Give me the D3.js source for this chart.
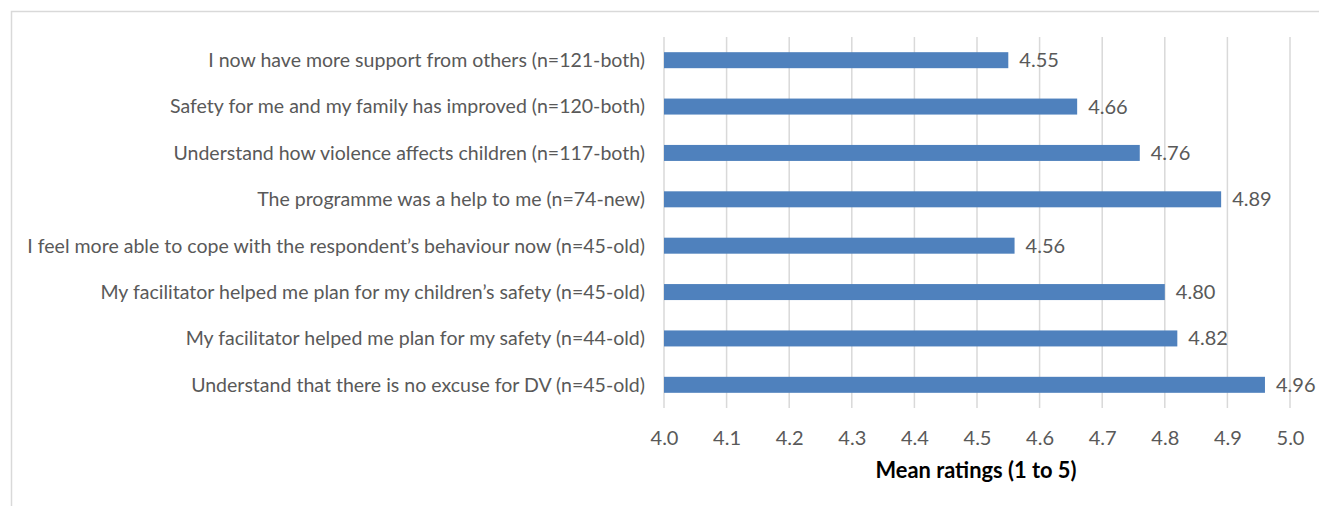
<!DOCTYPE html>
<html>
<head>
<meta charset="utf-8">
<script src="https://cdn.jsdelivr.net/npm/d3@7"></script>
<style>
  html, body { margin: 0; padding: 0; background: #fff; }
  svg { display: block; }
</style>
</head>
<body>
<svg id="chart" width="1319" height="506"></svg>
<script>
// Survey items (top to bottom) and their mean ratings
const categories = [
  "I now have more support from others (n=121-both)",
  "Safety for me and my family has improved (n=120-both)",
  "Understand how violence affects children (n=117-both)",
  "The programme was a help to me (n=74-new)",
  "I feel more able to cope with the respondent\u2019s behaviour now (n=45-old)",
  "My facilitator helped me plan for my children\u2019s safety (n=45-old)",
  "My facilitator helped me plan for my safety (n=44-old)",
  "Understand that there is no excuse for DV (n=45-old)"
];
const values = [4.55, 4.66, 4.76, 4.89, 4.56, 4.80, 4.82, 4.96];
const tickValues = [4.0, 4.1, 4.2, 4.3, 4.4, 4.5, 4.6, 4.7, 4.8, 4.9, 5.0];
const axisTitle = "Mean ratings (1 to 5)";

const svg = d3.select("#chart");
const FONT = "Lato, 'Open Sans', sans-serif";
const TEXT = "#595959";

// Outer chart frame
svg.append("rect")
  .attr("x", 11.5).attr("y", 11.5)
  .attr("width", 1318).attr("height", 510)
  .attr("fill", "none").attr("stroke", "#d9d9d9").attr("stroke-width", 1.5);

const plot = { left: 664, right: 1290, top: 37, bottom: 408 };

const x = d3.scaleLinear().domain([4.0, 5.0]).range([plot.left, plot.right]);
const y = d3.scaleBand().domain(categories).range([plot.top, plot.bottom]).paddingInner(0.655).paddingOuter(0.3275);

// Vertical gridlines
svg.append("g").selectAll("line").data(tickValues).join("line")
  .attr("x1", d => x(d)).attr("x2", d => x(d))
  .attr("y1", plot.top).attr("y2", plot.bottom)
  .attr("stroke", "#d9d9d9").attr("stroke-width", 1.5);

// Bars
svg.append("g").selectAll("rect").data(values).join("rect")
  .attr("x", x(4.0))
  .attr("y", (d, i) => y(categories[i]))
  .attr("width", d => x(d) - x(4.0))
  .attr("height", y.bandwidth())
  .attr("fill", "#4f81bd");

// Category labels, sized so the longest one fills the label column
const labels = svg.append("g").selectAll("text").data(categories).join("text")
  .attr("x", 645)
  .attr("y", d => y(d) + y.bandwidth() / 2)
  .attr("dy", "0.35em")
  .attr("text-anchor", "end")
  .attr("fill", TEXT)
  .style("font-family", FONT)
  .style("font-size", "17px")
  .text(d => d);
const widest = d3.max(labels.nodes(), n => n.getComputedTextLength());
const labelSize = 17 * 618 / widest;
labels.style("font-size", labelSize + "px");

// Value labels at bar ends
svg.append("g").selectAll("text").data(values).join("text")
  .attr("x", d => x(d) + 11)
  .attr("y", (d, i) => y(categories[i]) + y.bandwidth() / 2)
  .attr("dy", "0.35em")
  .attr("fill", TEXT)
  .style("font-family", FONT)
  .style("font-size", (labelSize + 0.5) + "px")
  .text(d => d.toFixed(2));

// X axis tick labels
const xAxis = d3.axisBottom(x).tickValues(tickValues).tickFormat(d3.format(".1f")).tickSize(0).tickPadding(0);
const ax = svg.append("g").attr("transform", `translate(0, ${plot.bottom + 23})`).call(xAxis);
ax.select(".domain").remove();
ax.selectAll("text")
  .attr("fill", TEXT)
  .style("font-family", FONT)
  .style("font-size", (labelSize + 0.5) + "px");

// Axis title
svg.append("text")
  .attr("x", 976)
  .attr("y", 478)
  .attr("text-anchor", "middle")
  .attr("fill", "#000")
  .style("font-family", FONT)
  .style("font-weight", "bold")
  .style("font-size", ((labelSize + 1) * 1.065) + "px")
  .text(axisTitle);
</script>
</body>
</html>
